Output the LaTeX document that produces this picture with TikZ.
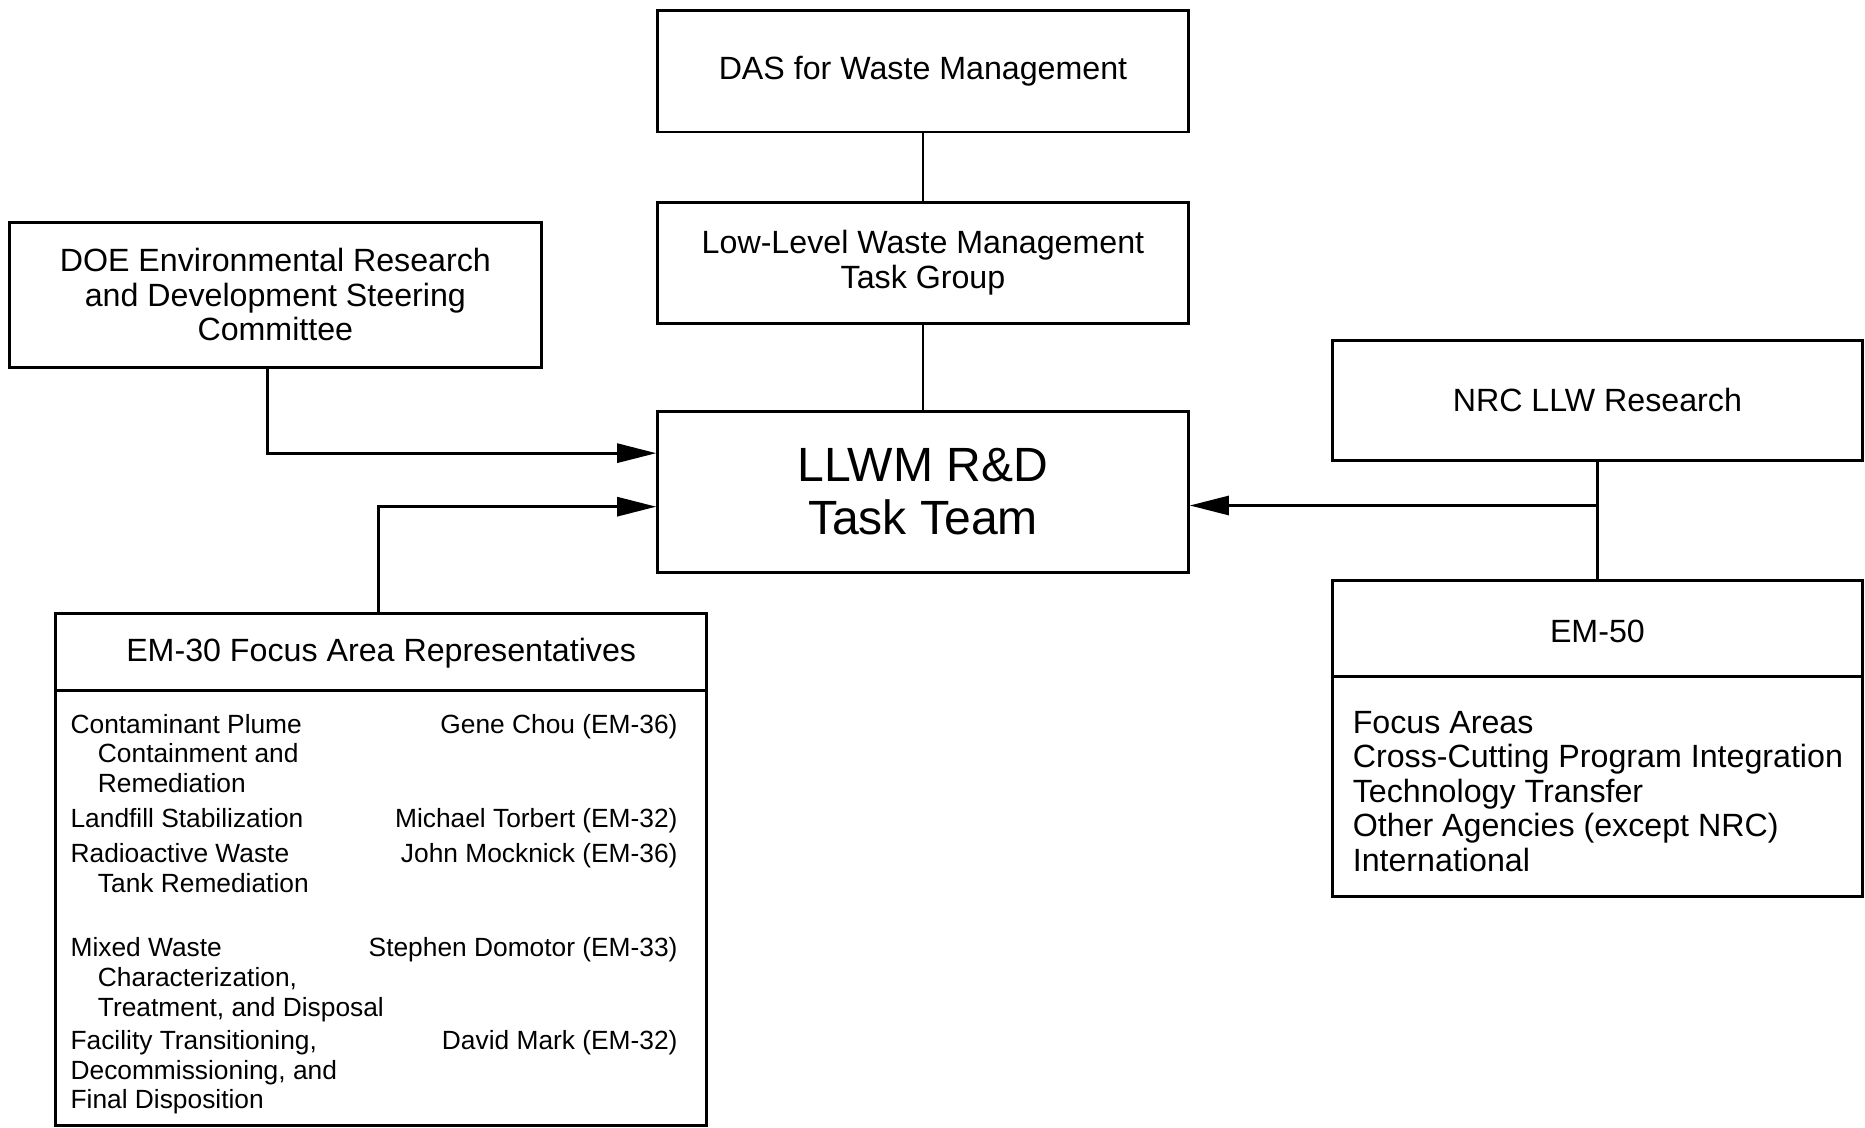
\documentclass[tikz,border=0pt]{standalone}
\usepackage{fontspec}
\setmainfont{Liberation Sans}
\usetikzlibrary{arrows.meta}
\newcommand{\boxfont}{\fontsize{15.4}{16.5}\selectfont}
\newcommand{\listfont}{\fontsize{12.6}{14.2}\selectfont}
\newcommand{\teamfont}{\fontsize{23}{25.6}\selectfont}

\begin{document}
\begin{tikzpicture}[box_node/.style={draw,line width=1.4pt,align=center,inner sep=0pt,font=\boxfont,minimum width=8.92cm,minimum height=2.04cm},text_node/.style={inner sep=0pt,align=left,font=\listfont},arrow_line/.style={line width=1.4pt,-{Triangle[length=0.66cm,width=0.32cm]}},link_line/.style={line width=1.4pt}]

		\useasboundingbox (0,0) rectangle (31.36,18.96);

		\node[box_node] (das) at (15.52,17.76) {DAS for Waste Management};
		\node[box_node] (tg) at (15.52,14.54) {Low-Level Waste Management\\Task Group};
		\node[box_node,font=\teamfont,minimum height=2.70cm] (team) at (15.52,10.69) {LLWM R\&D\\Task Team};
		\node[box_node,minimum width=8.94cm,minimum height=2.44cm] (doe) at (4.63,14.00) {DOE Environmental Research\\and Development Steering\\Committee};
		\node[box_node,minimum height=2.02cm] (nrc) at (26.86,12.23) {NRC LLW Research};
		\node[box_node,minimum height=5.32cm] (em50) at (26.86,6.54) {};
		\node[box_node,minimum width=10.94cm,minimum height=8.60cm] (em30) at (6.41,4.34) {};

		\node[font=\boxfont] (em50title) at (26.86,8.34) {EM-50};
		\node[font=\boxfont] (em30title) at (6.41,7.97) {EM-30 Focus Area Representatives};
		\draw[link_line] ([yshift=-1.64cm]em50.north west) -- ([yshift=-1.64cm]em50.north east);
		\draw[link_line] ([yshift=-1.32cm]em30.north west) -- ([yshift=-1.32cm]em30.north east);

		\node[text_node,font=\boxfont,anchor=north west] (em50list) at (22.74,7.01) {Focus Areas\\Cross-Cutting Program Integration\\Technology Transfer\\Other Agencies (except NRC)\\International};

		\node[text_node,anchor=north west] (plume) at (1.18,6.96) {Contaminant Plume\\\hspace*{0.46cm}Containment and\\\hspace*{0.46cm}Remediation};
		\node[text_node,anchor=north west] (landfill) at (1.18,5.38) {Landfill Stabilization};
		\node[text_node,anchor=north west] (tank) at (1.18,4.78) {Radioactive Waste\\\hspace*{0.46cm}Tank Remediation};
		\node[text_node,anchor=north west] (mixed) at (1.18,3.20) {Mixed Waste\\\hspace*{0.46cm}Characterization,\\\hspace*{0.46cm}Treatment, and Disposal};
		\node[text_node,anchor=north west] (facility) at (1.18,1.64) {Facility Transitioning,\\Decommissioning, and\\Final Disposition};

		\node[text_node,anchor=north east] (chou) at (11.40,6.96) {Gene Chou (EM-36)};
		\node[text_node,anchor=north east] (torbert) at (11.40,5.38) {Michael Torbert (EM-32)};
		\node[text_node,anchor=north east] (mocknick) at (11.40,4.78) {John Mocknick (EM-36)};
		\node[text_node,anchor=north east] (domotor) at (11.40,3.20) {Stephen Domotor (EM-33)};
		\node[text_node,anchor=north east] (mark) at (11.40,1.64) {David Mark (EM-32)};

		\draw[link_line] (das) -- (tg);
		\draw[link_line] (tg) -- (team);
		\draw[arrow_line] ([xshift=-0.13cm]doe.south) |- ([yshift=0.65cm]team.west);
		\draw[arrow_line] ([xshift=-0.05cm]em30.north) |- ([yshift=-0.25cm]team.west);

		\draw[link_line] (nrc) -- (em50);
		\coordinate (nrc_join) at (26.86,10.46);
		\draw[arrow_line] (nrc_join) -- (nrc_join -| team.east);
		\end{tikzpicture}
\end{document}
